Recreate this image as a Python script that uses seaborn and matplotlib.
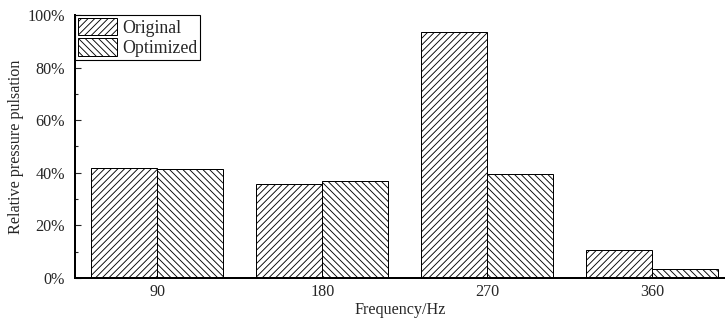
import matplotlib
matplotlib.use("Agg")
import matplotlib.pyplot as plt
import seaborn as sns
import pandas as pd
from matplotlib.ticker import PercentFormatter, MultipleLocator

categories = ["90", "180", "270", "360"]
series = ["Original", "Optimized"]
original = [0.417, 0.357, 0.934, 0.106]
optimized = [0.415, 0.367, 0.395, 0.035]
hatches = ["////", "\\\\\\\\"]

df = pd.DataFrame({
    "Frequency": categories * 2,
    "value": original + optimized,
    "series": [series[0]] * len(categories) + [series[1]] * len(categories),
})

sns.set_style("ticks")
plt.rcParams["font.family"] = ["Liberation Serif", "DejaVu Serif"]
plt.rcParams["hatch.linewidth"] = 0.8
plt.rcParams["xtick.direction"] = "in"
plt.rcParams["ytick.direction"] = "in"

DPI = 80
fig = plt.figure(figsize=(725 / DPI, 323 / DPI), dpi=DPI)
ax = fig.add_axes([75 / 725, 1 - 278 / 323, 1 - 75 / 725, (278 - 15) / 323])

sns.barplot(data=df, x="Frequency", y="value", hue="series", order=categories,
            hue_order=series, palette=["white", "white"], edgecolor="black",
            linewidth=0.9, width=0.8, saturation=1, ax=ax, legend=False)

for cont, h in zip(ax.containers, hatches):
    for p in cont.patches:
        p.set_hatch(h)
        p.set_edgecolor("black")

ax.set_xlim(-0.5, 3.44)
ax.set_ylim(0, 1.0)
ax.yaxis.set_major_locator(MultipleLocator(0.2))
ax.yaxis.set_minor_locator(MultipleLocator(0.1))
ax.yaxis.set_major_formatter(PercentFormatter(1.0, decimals=0))
ax.tick_params(axis="y", which="major", length=5, width=1, labelsize=14.5, pad=9)
ax.tick_params(axis="y", which="minor", length=3, width=1)
ax.tick_params(axis="x", which="major", length=0, labelsize=14.5, pad=5)

for s in ["top", "right"]:
    ax.spines[s].set_visible(False)
for s in ["left", "bottom"]:
    ax.spines[s].set_linewidth(1.8)
    ax.spines[s].set_color("black")

ax.set_xlabel("Frequency/Hz", fontsize=14.5, labelpad=2)
ax.set_ylabel("Relative pressure pulsation", fontsize=14.5, labelpad=3)

handles = [c.patches[0] for c in ax.containers]
leg = ax.legend(handles, series, loc="upper left", bbox_to_anchor=(0, 1),
                borderaxespad=0, fancybox=False, edgecolor="black",
                fontsize=16, handlelength=2.2, handleheight=1.15,
                handletextpad=0.3, labelspacing=0.1, borderpad=0.15,
                framealpha=1)
leg.get_frame().set_linewidth(1.0)

fig.savefig("out.png", dpi=DPI)
